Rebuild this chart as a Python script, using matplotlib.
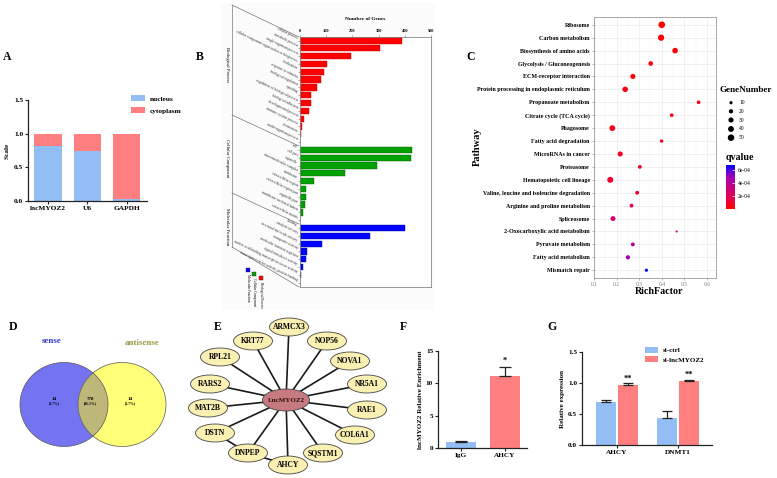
import matplotlib
matplotlib.use('Agg')
import matplotlib.pyplot as plt
import matplotlib.transforms as mtrans
from matplotlib.patches import Ellipse, Rectangle
from matplotlib.colors import LinearSegmentedColormap
import numpy as np

plt.rcParams['font.family'] = ['Liberation Serif', 'DejaVu Serif']
plt.rcParams['font.weight'] = 'bold'
plt.rcParams['axes.labelweight'] = 'bold'

# ---------------- data ----------------
# A: nuclear / cytoplasmic fraction
frac_names = ['lncMYOZ2', 'U6', 'GAPDH']
nucleus = [0.81, 0.74, 0.03]

# B: GO annotation
bp_terms = ['cellular process', 'metabolic process', 'single-organism process',
            'cellular component organization or biogenesis', 'localization',
            'response to stimulus', 'biological regulation', 'signaling',
            'regulation of biological process', 'biological adhesion',
            'developmental process', 'immune system process', 'locomotion',
            'multi-organism process']
bp_counts = [388, 305, 195, 103, 93, 80, 66, 43, 42, 36, 17, 6, 3, 1]
cc_terms = ['cell', 'cell part', 'organelle', 'macromolecular complex', 'membrane',
            'extracellular region', 'extracellular region part', 'organelle part',
            'membrane-enclosed lumen', 'extracellular matrix']
cc_counts = [426, 424, 293, 171, 55, 24, 23, 19, 10, 1]
mf_terms = ['binding', 'catalytic activity', 'structural molecule activity',
            'transporter activity', 'molecular function regulator',
            'signal transducer activity',
            'nucleic acid binding transcription factor activity',
            'transcription factor activity, protein binding']
mf_counts = [401, 266, 84, 27, 23, 11, 4, 1]

# C: KEGG enrichment
pathways = ['Ribosome', 'Carbon metabolism', 'Biosynthesis of amino acids',
            'Glycolysis / Gluconeogenesis', 'ECM-receptor interaction',
            'Protein processing in endoplasmic reticulum', 'Propanoate metabolism',
            'Citrate cycle (TCA cycle)', 'Phagosome', 'Fatty acid degradation',
            'MicroRNAs in cancer', 'Proteasome', 'Hematopoietic cell lineage',
            'Valine, leucine and isoleucine degradation',
            'Arginine and proline metabolism', 'Spliceosome',
            '2-Oxocarboxylic acid metabolism', 'Pyruvate metabolism',
            'Fatty acid metabolism', 'Mismatch repair']
rich_factor = [0.40, 0.397, 0.459, 0.351, 0.272, 0.238, 0.563, 0.444, 0.181, 0.399,
               0.216, 0.303, 0.172, 0.291, 0.266, 0.184, 0.466, 0.272, 0.250, 0.332]
gene_number = [52, 46, 36, 24, 30, 35, 14, 14, 40, 12,
               30, 15, 42, 16, 16, 28, 3, 16, 20, 10]
qvalue = [1e-6, 2e-6, 2e-5, 2e-5, 3e-5, 4e-5, 6e-5, 6e-5, 6e-5, 7e-5,
          8e-5, 9e-5, 1e-4, 1.1e-4, 1.4e-4, 2.5e-4, 3.2e-4, 4.0e-4, 4.6e-4, 6.8e-4]
size_legend = [10, 20, 30, 40, 50]

# D: Venn counts
sense_only = 14
shared = 778
antisense_only = 14

# E: interaction network
hub = 'LncMYOZ2'
partners = ['ARMCX3', 'NOP56', 'NOVA1', 'NR5A1', 'RAE1', 'COL6A1', 'SQSTM1',
            'AHCY', 'DNPEP', 'DSTN', 'MAT2B', 'RARS2', 'RPL21', 'KRT77']
extra_edges = [('DSTN', 'DNPEP'), ('DNPEP', 'AHCY')]

# F: RIP enrichment
rip_groups = ['IgG', 'AHCY']
rip_mean = [1.0, 11.2]
rip_err = [0.08, 1.3]

# G: knockdown expression
genes = ['AHCY', 'DNMT1']
ctrl_mean = [0.70, 0.44]
ctrl_err = [0.02, 0.11]
si_mean = [0.97, 1.03]
si_err = [0.03, 0.02]

# ---------------- layout ----------------
W, H = 777, 478
fig = plt.figure(figsize=(W / 100, H / 100), dpi=100)

# overlay in pixel coordinates for drawings and labels
ov = fig.add_axes([0, 0, 1, 1])
ov.set_xlim(0, W)
ov.set_ylim(H, 0)
ov.axis('off')


def box(x0, y0, x1, y1):
    return fig.add_axes([x0 / W, 1 - y1 / H, (x1 - x0) / W, (y1 - y0) / H])


blue_c = '#93BEF5'
red_c = '#FF7F80'
dark = '#222222'


def bar_style(ax, fs=5.3):
    for s in ['top', 'right']:
        ax.spines[s].set_visible(False)
    for s in ['left', 'bottom']:
        ax.spines[s].set_linewidth(0.9)
        ax.spines[s].set_color(dark)
    ax.tick_params(labelsize=fs, width=0.8, length=2, color=dark, pad=1.5)


# panel letters
for letter, (px, py) in zip('ABCDEFG', [(7, 57), (200, 57), (471, 57), (13, 327),
                                        (218, 327), (403, 327), (552, 327)]):
    ov.text(px, py, letter, fontsize=8.5, ha='center', va='center', color='black')

# ---------------- A ----------------
ax_a = box(28, 100, 147, 201)
xa = np.arange(len(frac_names))
cyto = [1 - v for v in nucleus]
ax_a.bar(xa, nucleus, width=0.69, color=blue_c, label='nucleus')
ax_a.bar(xa, cyto, width=0.69, bottom=nucleus, color=red_c, label='cytoplasm')
ax_a.set_xlim(-0.51, 2.52)
ax_a.set_ylim(0, 1.5)
ax_a.set_yticks([0, 0.5, 1.0, 1.5])
ax_a.set_xticks(xa)
ax_a.set_xticklabels(frac_names)
ax_a.set_ylabel('Scale', fontsize=5.3, labelpad=3)
bar_style(ax_a)
ax_a.legend(loc='upper left', bbox_to_anchor=(131 / W, 1 - 95 / H),
            bbox_transform=fig.transFigure, frameon=False, fontsize=5.3,
            handlelength=1.9, handleheight=0.9, handletextpad=0.6,
            labelspacing=0.75, borderpad=0, borderaxespad=0)

# ---------------- B ----------------
ov.add_patch(Rectangle((221, 3), 214, 307, facecolor='#fbfbfb', edgecolor='none'))
ax_b = box(300, 37, 431, 287)
terms = bp_terms + cc_terms + mf_terms
counts = bp_counts + cc_counts + mf_counts
cols = ['#FF0000'] * len(bp_terms) + ['#00A000'] * len(cc_terms) + ['#0000FF'] * len(mf_terms)
edges = ['#C00000'] * len(bp_terms) + ['#006000'] * len(cc_terms) + ['#0000A0'] * len(mf_terms)
yb = np.arange(len(terms))
ax_b.barh(yb, counts, height=0.8, color=cols, edgecolor=edges, linewidth=0.3)
ax_b.set_xlim(0, 500)
ax_b.set_ylim(len(terms) - 0.45, -0.45)
ax_b.xaxis.tick_top()
ax_b.set_xticks([0, 100, 200, 300, 400, 500])
ax_b.set_yticks(yb)
ax_b.set_yticklabels([])
ax_b.tick_params(labelsize=3.2, length=1.5, width=0.4, color='#666666', pad=1.5)
for s in ax_b.spines.values():
    s.set_color('#888888')
    s.set_linewidth(0.6)
ov.text(365, 19, 'Number of Genes', fontsize=3.9, ha='center', va='center')
trans_b = mtrans.blended_transform_factory(ax_b.transAxes, ax_b.transData)
for yv, term in zip(yb, terms):
    ax_b.text(-0.02, yv - 0.35, term, transform=trans_b, fontsize=2.6,
              fontweight='normal', rotation=-26, rotation_mode='anchor',
              ha='right', va='center', color='#333333')
line_kw = dict(color='#777777', lw=0.5)
ov.plot([232, 232], [5, 247], **line_kw)
for y0, y1 in [(5, 37), (115, 146), (193, 224), (247, 287)]:
    ov.plot([232, 299], [y0, y1], **line_kw)
for txt, yc in [('Biological Process', 65), ('Cellular Component', 158),
                ('Molecular Function', 227)]:
    ov.text(227, yc, txt, fontsize=3.4, fontweight='normal', rotation=-90,
            ha='center', va='center')
for txt, c, (lx, ly) in [('Molecular Function', '#0000FF', (248, 270)),
                         ('Cellular Component', '#00A000', (254, 274)),
                         ('Biological Process', '#FF0000', (261, 278))]:
    ov.add_patch(Rectangle((lx - 2.3, ly - 2.3), 4.6, 4.6, facecolor=c,
                           edgecolor='#333333', lw=0.3))
    ov.text(lx, ly + 4, txt, fontsize=2.5, fontweight='normal', rotation=-90,
            ha='center', va='top')

# ---------------- C ----------------
ax_c = box(594, 17, 716, 278)
q_cmap = LinearSegmentedColormap.from_list(
    'q', ['#FF0000', '#E4004F', '#C70083', '#9A00B8', '#0000FF'])


def dot_size(n):
    d = np.sqrt(2.24 + 0.8 * np.asarray(n, dtype=float))
    return (d * 0.72) ** 2


yc = np.arange(len(pathways))
sc = ax_c.scatter(rich_factor, yc, s=dot_size(gene_number), c=qvalue, cmap=q_cmap,
                  vmin=0, vmax=6.8e-4, linewidths=0, zorder=3)
ax_c.set_xlim(0.1, 0.64)
ax_c.set_ylim(len(pathways) - 0.4, -0.6)
ax_c.set_xticks([0.1, 0.2, 0.3, 0.4, 0.5, 0.6])
ax_c.set_xticks([0.15, 0.25, 0.35, 0.45, 0.55], minor=True)
ax_c.set_yticks(yc)
ax_c.set_yticklabels(pathways, fontsize=4.3)
ax_c.tick_params(axis='x', labelsize=4, labelcolor='#777777', length=1.5,
                 width=0.4, color='#777777', pad=1.5)
ax_c.tick_params(axis='x', which='minor', length=0)
ax_c.tick_params(axis='y', length=1.5, width=0.4, color='#777777', pad=1.5)
for lab in ax_c.get_xticklabels():
    lab.set_fontweight('normal')
ax_c.grid(True, which='major', color='#EBEBEB', lw=0.5)
ax_c.grid(True, which='minor', axis='x', color='#F3F3F3', lw=0.35)
ax_c.set_axisbelow(True)
for s in ax_c.spines.values():
    s.set_color('#999999')
    s.set_linewidth(0.6)
ov.text(477, 147, 'Pathway', fontsize=7.5, rotation=90, ha='center', va='center')
ov.text(659, 292, 'RichFactor', fontsize=7.2, ha='center', va='center')

# size legend
ov.text(719, 90, 'GeneNumber', fontsize=6.6, ha='left', va='center')
leg_y = [102.7, 111.3, 120, 129, 137.7]
ov.scatter([731] * len(size_legend), leg_y, s=dot_size(size_legend), color='black',
           linewidths=0)
for v, ly in zip(size_legend, leg_y):
    ov.text(739, ly, str(v), fontsize=4, fontweight='normal', va='center')

# colour bar
ov.text(726, 158, 'qvalue', fontsize=7.2, ha='left', va='center')
cax = box(726, 165, 735, 209)
cb = fig.colorbar(sc, cax=cax)
cb.set_ticks([2e-4, 4e-4, 6e-4])
cb.set_ticklabels(['2e-04', '4e-04', '6e-04'])
cb.outline.set_visible(False)
cax.tick_params(labelsize=4, length=2.5, color='white', width=0.5, pad=2,
                direction='in')
for lab in cax.get_yticklabels():
    lab.set_fontweight('normal')

# ---------------- D ----------------
left_c = Ellipse((64, 404.5), 88, 84, facecolor='#7474F2', edgecolor='none')
right_c = Ellipse((122, 404.5), 88, 84, facecolor='#FFFF78', edgecolor='none')
ov.add_patch(left_c)
ov.add_patch(right_c)
mid_c = Ellipse((64, 404.5), 88, 84, facecolor='#BDB77A', edgecolor='none')
ov.add_patch(mid_c)
mid_c.set_clip_path(right_c)
for cx in (64, 122):
    ov.add_patch(Ellipse((cx, 404.5), 88, 84, facecolor='none',
                         edgecolor='#555555', lw=0.5))
total = sense_only + shared + antisense_only
ov.text(52, 341, 'sense', fontsize=6.5, color='#3838C8', ha='center', va='center')
ov.text(142, 343, 'antisense', fontsize=6.5, color='#9C9A48', ha='center', va='center')
for n, cx in [(sense_only, 54), (shared, 90), (antisense_only, 130)]:
    ov.text(cx, 399, str(n), fontsize=3.6, ha='center', va='center')
    ov.text(cx, 403.5, '(%.1f%%)' % (100.0 * n / total), fontsize=2.7,
            ha='center', va='center')

# ---------------- E ----------------
layout = {'LncMYOZ2': (286, 400), 'ARMCX3': (289, 327), 'NOP56': (327, 341),
          'NOVA1': (350, 361), 'NR5A1': (367, 384), 'RAE1': (367, 410),
          'COL6A1': (355, 435), 'SQSTM1': (323, 453), 'AHCY': (288, 465),
          'DNPEP': (248, 453), 'DSTN': (215, 433), 'MAT2B': (208, 408),
          'RARS2': (210, 384), 'RPL21': (220, 357), 'KRT77': (253, 341)}
hx, hy = layout[hub]
for p in partners:
    px, py = layout[p]
    ov.plot([hx, px], [hy, py], color='#1a1a1a', lw=1.2, zorder=2)
for a, b in extra_edges:
    ov.plot([layout[a][0], layout[b][0]], [layout[a][1], layout[b][1]],
            color='#1a1a1a', lw=1.2, zorder=2)
for p in partners:
    px, py = layout[p]
    ov.add_patch(Ellipse((px, py), 39, 18, facecolor='#FAF0B2', edgecolor='#444444',
                         lw=0.6, zorder=3))
    ov.text(px, py, p, fontsize=5.5, ha='center', va='center', zorder=4)
ov.add_patch(Ellipse((hx, hy), 47, 22, facecolor='#C77B80', edgecolor='#444444',
                     lw=0.6, zorder=3))
ov.text(hx, hy, hub, fontsize=5.0, ha='center', va='center', color='#2a1010', zorder=4)

# ---------------- F ----------------
ax_f = box(438, 351, 527, 448)
xf = np.arange(len(rip_groups))
ax_f.bar(xf, rip_mean, width=0.68, color=[blue_c, red_c])
ax_f.errorbar(xf, rip_mean, yerr=[[0] * len(xf), rip_err], fmt='none',
              ecolor=dark, elinewidth=0.9, capsize=4.5, capthick=0.9)
ax_f.text(1, rip_mean[1] + rip_err[1] + 0.3, '*', fontsize=6, ha='center', va='bottom')
ax_f.set_xlim(-0.52, 1.5)
ax_f.set_ylim(0, 15)
ax_f.set_yticks([0, 5, 10, 15])
ax_f.set_xticks(xf)
ax_f.set_xticklabels(rip_groups)
ax_f.set_ylabel('lncMYOZ2 Relative Enrichment', fontsize=5, labelpad=2)
bar_style(ax_f, 5.2)

# ---------------- G ----------------
ax_g = box(582, 352, 712, 445)
xg = np.arange(len(genes))
off = 0.185
ax_g.bar(xg - off, ctrl_mean, width=0.33, color=blue_c, label='si-ctrl')
ax_g.bar(xg + off, si_mean, width=0.33, color=red_c, label='si-lncMYOZ2')
ax_g.errorbar(xg - off, ctrl_mean, yerr=[[0] * len(xg), ctrl_err], fmt='none',
              ecolor=dark, elinewidth=0.9, capsize=3.5, capthick=0.9)
ax_g.errorbar(xg + off, si_mean, yerr=[[0] * len(xg), si_err], fmt='none',
              ecolor=dark, elinewidth=0.9, capsize=3.5, capthick=0.9)
for xv, m, e in zip(xg + off, si_mean, si_err):
    ax_g.text(xv, m + e + 0.01, '**', fontsize=6, ha='center', va='bottom')
ax_g.set_xlim(-0.574, 1.557)
ax_g.set_ylim(0, 1.5)
ax_g.set_yticks([0, 0.5, 1.0, 1.5])
ax_g.set_xticks(xg)
ax_g.set_xticklabels(genes)
ax_g.set_ylabel('Relative expression', fontsize=5, labelpad=2)
bar_style(ax_g, 5.2)
ax_g.legend(loc='upper left', bbox_to_anchor=(645 / W, 1 - 347 / H),
            bbox_transform=fig.transFigure, frameon=False, fontsize=5,
            handlelength=1.9, handleheight=0.9, handletextpad=0.6,
            labelspacing=0.45, borderpad=0, borderaxespad=0)

fig.savefig('out.png', dpi=100)
